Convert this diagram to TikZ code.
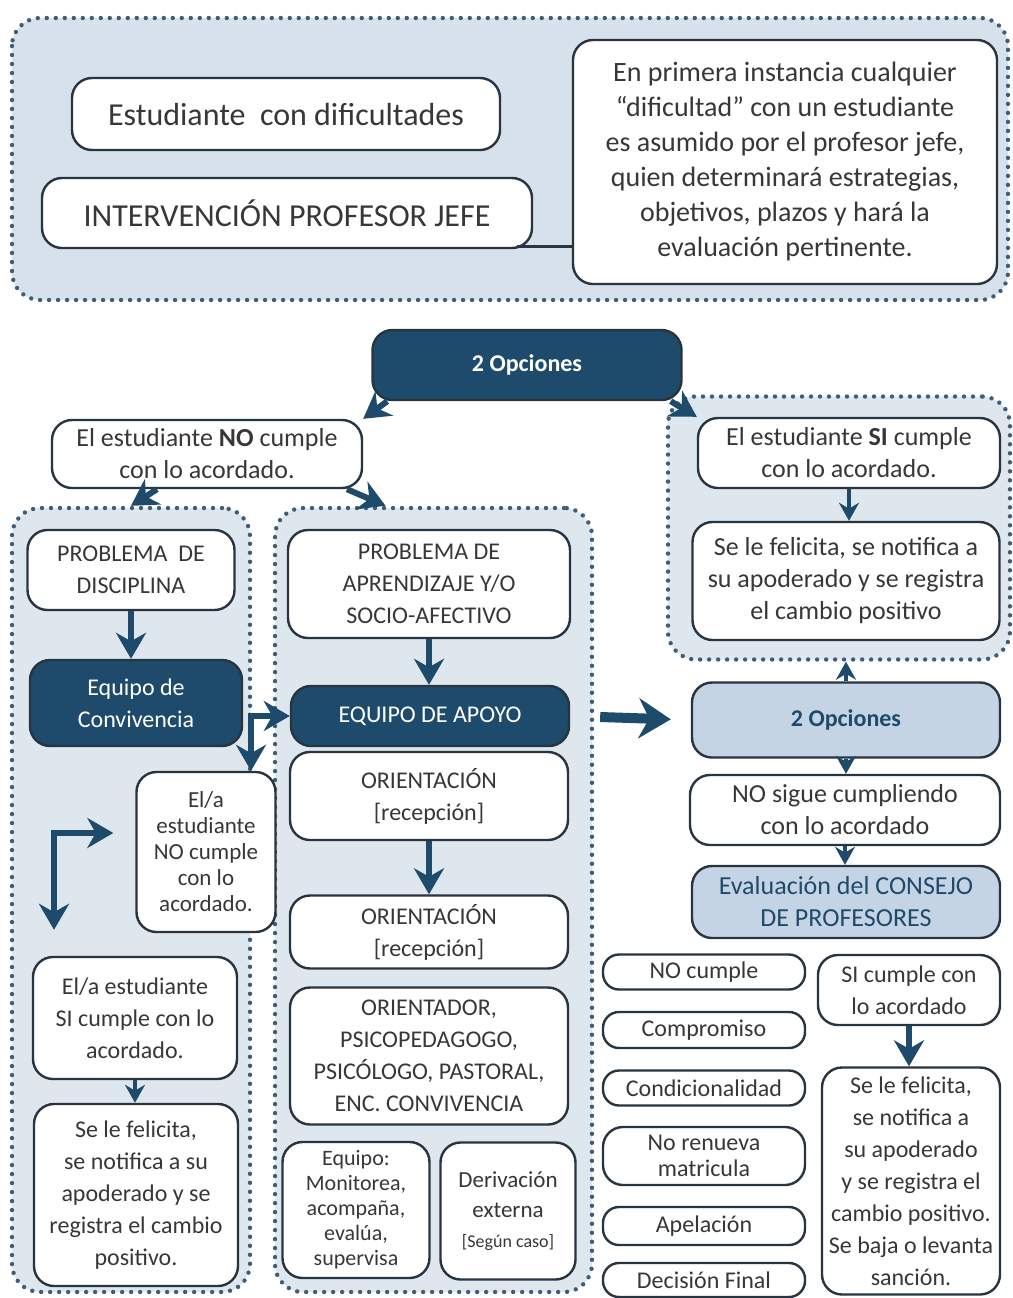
\documentclass[tikz,border=0pt]{standalone}
\usepackage{fontspec}
\setmainfont{Carlito}
\usetikzlibrary{arrows.meta}
\definecolor{darkblue}{RGB}{30,75,107}
\definecolor{panelblue}{RGB}{214,225,235}
\definecolor{groupblue}{RGB}{222,230,238}
\definecolor{lightbox}{RGB}{197,212,228}
\definecolor{boxline}{RGB}{40,52,64}
\definecolor{textgray}{RGB}{55,55,55}
\definecolor{dotline}{RGB}{63,93,120}

\begin{document}
\begin{tikzpicture}[x=0.5pt,y=-0.5pt,
		box/.style={draw=boxline,line width=1.2pt,rounded corners=10pt,fill=white,align=center,text=textgray,inner sep=1pt,font=\fontsize{12}{16}\selectfont},
		darkbox/.style={box,fill=darkblue,text=white},
		lightbox/.style={box,fill=lightbox,text=darkblue},
		panel/.style={draw=dotline,line width=2.2pt,line cap=round,dash pattern=on 0pt off 4.5pt,rounded corners=14pt,fill=groupblue,inner sep=0pt},
		flow/.style={-{Stealth[length=13pt,width=15pt]},line width=3pt,draw=darkblue},
		thinflow/.style={-{Stealth[length=9pt,width=10pt]},line width=2pt,draw=darkblue},
		bigflow/.style={-{Stealth[length=16pt,width=20pt]},line width=5pt,draw=darkblue},
		link/.style={draw=boxline,line width=1.5pt}]
			\useasboundingbox (0,0) rectangle (1013,1298);
			\coordinate (p_estud) at (286,114);
			\coordinate (p_interv) at (287,213);
			\coordinate (p_nota) at (785,162);
			\coordinate (p_opc1) at (527,365);
			\coordinate (p_nocumple) at (207,454);
			\coordinate (p_grpsi) at (839,528);
			\coordinate (p_opc2) at (846,720);
			% paneles de fondo
			\draw[panel,fill=panelblue] (12,18) rectangle (1008,300);
			\node[panel,minimum width=119pt,minimum height=392pt] (grp1) at (131,900) {};
			\node[panel,minimum width=158.5pt,minimum height=392pt] (grp2) at (433.5,900) {};
			\node[panel,minimum width=171pt,minimum height=131.5pt] (grpsi) at (p_grpsi) {};
			% parte superior
			\node[box,minimum width=214pt,minimum height=36pt,font=\fontsize{16}{19}\selectfont] (estud) at (p_estud) {Estudiante\ \ con dificultades};
			\node[box,minimum width=245pt,minimum height=35pt,font=\fontsize{16}{19}\selectfont] (interv) at (p_interv) {INTERVENCIÓN PROFESOR JEFE};
			\node[box,minimum width=212pt,minimum height=122pt,font=\fontsize{14}{17.5}\selectfont] (nota) at (p_nota) {En primera instancia cualquier\\“dificultad” con un estudiante\\es asumido por el profesor jefe,\\quien determinará estrategias,\\objetivos, plazos y hará la\\evaluación pertinente.};
			\coordinate (j) at ([xshift=-8pt,yshift=1.5pt]interv.south east);
			\draw[link] (j) -- (j -| nota.west);
			% opciones
			\node[darkbox,minimum width=154.5pt,minimum height=35pt,font=\fontsize{12}{16}\selectfont\bfseries] (opc1) at (p_opc1) {2 Opciones};
			\node[box,minimum width=155pt,minimum height=34pt,font=\fontsize{13}{16}\selectfont] (nocumple) at (p_nocumple) {El estudiante \textbf{NO} cumple\\con lo acordado.};
			\node[box,minimum width=151pt,minimum height=35pt,font=\fontsize{13}{16}\selectfont] (sibox) at (849,453) {El estudiante \textbf{SI} cumple\\con lo acordado.};
			\node[box,minimum width=153.5pt,minimum height=59pt,font=\fontsize{13}{16}\selectfont] (felbox) at (846,581) {Se le felicita, se notifica a\\su apoderado y se registra\\el cambio positivo};
			\draw[flow] ([xshift=8pt]opc1.south west) -- (nocumple.north east);
			\draw[flow] ([xshift=-6pt]opc1.south east) -- (sibox.north west);
			\draw[flow] ([xshift=-25pt]nocumple.south) -- (grp1.north);
			\draw[flow] ([xshift=70pt]nocumple.south) -- ([xshift=-24pt]grp2.north);
			\draw[thinflow] (sibox.south) -- (sibox.south |- felbox.north);
			% disciplina
			\node[box,minimum width=103.5pt,minimum height=40pt] (disc) at (131,570) {PROBLEMA\ \ DE\\DISCIPLINA};
			\node[darkbox,minimum width=106pt,minimum height=43pt] (conviv) at (136,703) {Equipo de\\Convivencia};
			\node[box,minimum width=69.5pt,minimum height=80pt,font=\fontsize{11.5}{13}\selectfont] (nocumple2) at (206,852) {El/a\\estudiante\\NO cumple\\con lo\\acordado.};
			\node[box,minimum width=102pt,minimum height=61pt] (sicumple2) at (135,1018) {El/a estudiante\\SI cumple con lo\\acordado.};
			\node[box,minimum width=102pt,minimum height=91pt] (felic2) at (136,1195) {Se le felicita,\\se notifica a su\\apoderado y se\\registra el cambio\\positivo.};
			\draw[flow] (disc.south) -- (disc.south |- conviv.north);
			\draw[thinflow] (sicumple2.south) -- (sicumple2.south |- felic2.north);
			\draw[flow,{Stealth[length=13pt,width=15pt]}-{Stealth[length=13pt,width=15pt]},shorten <=11pt,shorten >=13pt] ([yshift=9.5pt]nocumple2.west) -| ([xshift=-40.5pt]sicumple2.north);
			% apoyo
			\node[box,minimum width=141pt,minimum height=54pt] (aprend) at (429,584) {PROBLEMA DE\\APRENDIZAJE Y/O\\SOCIO-AFECTIVO};
			\node[darkbox,minimum width=139pt,minimum height=30pt] (apoyo) at (430,716) {EQUIPO DE APOYO};
			\node[box,minimum width=139pt,minimum height=44pt] (orient1) at (429,796) {ORIENTACIÓN\\{[}recepción{]}};
			\node[box,minimum width=139pt,minimum height=36.5pt] (orient2) at (429,932) {ORIENTACIÓN\\{[}recepción{]}};
			\node[box,minimum width=139pt,minimum height=68.5pt] (orientador) at (429,1056) {ORIENTADOR,\\PSICOPEDAGOGO,\\PSICÓLOGO, PASTORAL,\\ENC. CONVIVENCIA};
			\node[box,minimum width=73.5pt,minimum height=68pt,font=\fontsize{11}{12.5}\selectfont] (monit) at (356,1210) {Equipo:\\Monitorea,\\acompaña,\\evalúa,\\supervisa};
			\node[box,minimum width=67.5pt,minimum height=68.5pt,font=\fontsize{11.5}{15}\selectfont] (deriv) at (508,1211) {Derivación\\externa\\{\fontsize{9}{11}\selectfont [Según caso]}};
			\draw[flow] (aprend.south) -- (aprend.south |- apoyo.north);
			\draw[flow] (orient1.south) -- (orient1.south |- orient2.north);
			\draw[flow,{Stealth[length=13pt,width=15pt]}-{Stealth[length=13pt,width=15pt]}] ([xshift=22.5pt]nocumple2.north) |- (apoyo.west);
			% consejo
			\node[lightbox,minimum width=154pt,minimum height=37.5pt,font=\fontsize{12}{16}\selectfont\bfseries] (opc2) at (p_opc2) {2 Opciones};
			\node[box,minimum width=155pt,minimum height=35pt,font=\fontsize{13}{16}\selectfont] (nosigue) at (845,810) {NO sigue cumpliendo\\con lo acordado};
			\node[lightbox,minimum width=154pt,minimum height=36pt,font=\fontsize{13}{16}\selectfont] (consejo) at (846,902) {Evaluación del CONSEJO\\DE PROFESORES};
			\draw[bigflow,shorten <=15pt,shorten >=10pt] (apoyo.east) -- (opc2.west);
			\draw[thinflow] (opc2.north) -- (opc2.north |- grpsi.south);
			\draw[thinflow] (opc2.south) -- (opc2.south |- nosigue.north);
			\draw[thinflow] (nosigue.south) -- (nosigue.south |- consejo.north);
			% decisiones
			\node[box,minimum width=101pt,minimum height=17.5pt,rounded corners=8pt] (nocumple3) at (704,972) {NO cumple};
			\node[box,minimum width=101pt,minimum height=18pt,rounded corners=8pt] (compromiso) at (704,1030) {Compromiso};
			\node[box,minimum width=101pt,minimum height=17.5pt,rounded corners=8pt] (condic) at (704,1088) {Condicionalidad};
			\node[box,minimum width=101pt,minimum height=29pt,font=\fontsize{12}{13}\selectfont] (norenueva) at (704,1156) {No renueva\\matricula};
			\node[box,minimum width=101pt,minimum height=19pt,rounded corners=8pt] (apelacion) at (704,1226) {Apelación};
			\node[box,minimum width=101pt,minimum height=17pt,rounded corners=8pt] (decision) at (704,1280) {Decisión Final};
			\node[box,minimum width=91pt,minimum height=35pt] (sicumple3) at (909,990) {SI cumple con\\lo acordado};
			\node[box,minimum width=89pt,minimum height=113.5pt] (felic3) at (911,1181) {Se le felicita,\\se notifica a\\su apoderado\\y se registra el\\cambio positivo.\\Se baja o levanta\\sanción.};
			\draw[flow] (sicumple3.south) -- (sicumple3.south |- felic3.north);
		\end{tikzpicture}
\end{document}
